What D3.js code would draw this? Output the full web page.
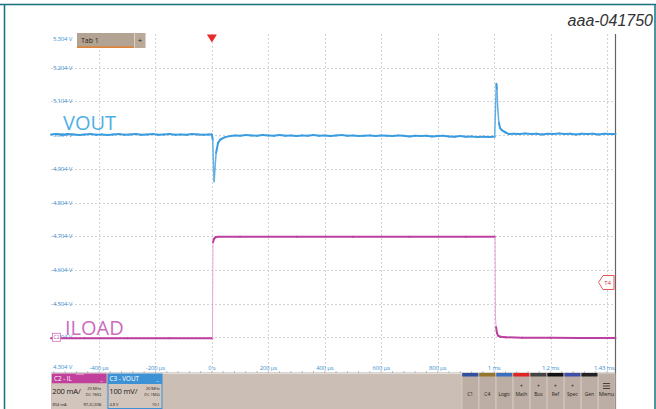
<!DOCTYPE html>
<html><head><meta charset="utf-8">
<script src="https://cdn.jsdelivr.net/npm/d3@7"></script>
<style>
body{margin:0;background:#fff;}
svg{display:block;font-family:"Open Sans",sans-serif;}
</style>
</head><body>
<svg id="c" width="656" height="409"></svg>
<script>
// ---- data ----
const voltTicks = [5.304, 5.204, 5.104, 5.004, 4.904, 4.804, 4.704, 4.604, 4.504, 4.404, 4.304];
const gridTimes = [-0.4, -0.2, 0, 0.2, 0.4, 0.6, 0.8, 1.0, 1.2, 1.4];
const timeTickVals = [-0.4, -0.2, 0, 0.2, 0.4, 0.6, 0.8, 1.0, 1.2, 1.43];
const timeTickLabels = ["-400 µs", "-200 µs", "0 s", "200 µs", "400 µs", "600 µs", "800 µs", "1 ms", "1.2 ms", "1.43 ms"];

// VOUT (time in ms, volts)
const voutT = [-0.57,-0.55,-0.53,-0.51,-0.49,-0.47,-0.45,-0.43,-0.41,-0.39,-0.37,-0.35,-0.33,-0.31,-0.29,-0.27,-0.25,-0.23,-0.21,-0.19,-0.17,-0.15,-0.13,-0.11,-0.09,-0.07,-0.05,-0.03,-0.01,0.0,
  0.003,0.006,0.008,0.011,0.015,0.022,0.030,0.047,0.065,0.083,0.10,0.12,0.14,0.16,0.18,0.20,0.22,0.24,0.26,0.28,0.30,0.32,0.34,0.36,0.38,0.40,0.42,0.44,0.46,0.48,0.50,0.52,0.54,0.56,0.58,0.60,0.62,0.64,0.66,0.68,0.70,0.72,0.74,0.76,0.78,0.80,0.82,0.84,0.86,0.88,0.90,0.92,0.94,0.96,0.98,1.002,
  1.005,1.008,1.010,1.013,1.017,1.021,1.027,1.040,1.053,1.07,1.09,1.11,1.13,1.15,1.17,1.19,1.21,1.23,1.25,1.27,1.29,1.31,1.33,1.35,1.37,1.39,1.41,1.43];
const voutV = [5.006,5.007,5.005,5.007,5.006,5.004,5.006,5.007,5.005,5.006,5.004,5.006,5.007,5.005,5.006,5.007,5.005,5.006,5.007,5.005,5.006,5.007,5.005,5.006,5.005,5.007,5.006,5.005,5.006,5.006,
  4.990,4.905,4.866,4.905,4.952,4.981,4.991,4.998,5.001,5.003,5.002,5.004,5.003,5.002,5.004,5.003,5.002,5.004,5.002,5.003,5.001,5.003,5.002,5.004,5.002,5.003,5.001,5.003,5.004,5.002,5.003,5.001,5.002,5.003,5.001,5.003,5.002,5.001,5.003,5.002,5.000,5.002,5.001,5.002,5.000,5.001,5.002,5.000,4.999,5.001,4.999,5.000,4.998,4.999,4.998,4.999,
  5.090,5.156,5.140,5.080,5.040,5.025,5.019,5.012,5.007,5.008,5.007,5.009,5.007,5.008,5.006,5.008,5.007,5.009,5.007,5.008,5.006,5.008,5.007,5.008,5.006,5.008,5.007,5.007];

// ILOAD (time in ms, mA)
const iloadT  = [-0.57,-0.45,-0.30,-0.15,0.0,0.002,0.004,0.008,0.013,0.020,0.10,0.30,0.50,0.70,0.90,1.0036,1.0046,1.007,1.010,1.015,1.022,1.04,1.10,1.20,1.30,1.43];
const iloadMA = [-5,-5,-6,-5,-5,-5,565,585,594,596,596,597,596,597,596,596,125,60,25,8,3,0,-2,-3,-4,-4];

const buttonNames  = ["C1","C4","Logic","Math","Bus","Ref","Spec","Gen"];
const buttonColors = ["#2f4fa0","#94762e","#3a6fc0","#e02424","#444444","#111111","#3f4fa8","#222222"];
const buttonPlus   = [false,false,false,true,true,true,true,false];

// ---- layout ----
const svg = d3.select("#c");
const L = 51, R = 615.5, T = 34, B = 371;
const x = d3.scaleLinear().domain([-0.57, 1.43]).range([L, R]);
const yV = d3.scaleLinear().domain([4.304, 5.304]).range([B, T]);
const yI = d3.scaleLinear().domain([-200, 1800]).range([B, T]); // 200 mA/div

// frame
svg.append("line").attr("x1",0).attr("x2",656).attr("y1",4.5).attr("y2",4.5).attr("stroke","#16727e").attr("stroke-width",1.5);
svg.append("line").attr("x1",4.5).attr("x2",4.5).attr("y1",4).attr("y2",409).attr("stroke","#16727e").attr("stroke-width",1.5);
svg.append("line").attr("x1",655).attr("x2",655).attr("y1",4).attr("y2",409).attr("stroke","#16727e").attr("stroke-width",1.5);

// grid
const g = svg.append("g");
g.selectAll(".hg").data(voltTicks.slice(1, -1)).enter().append("line")
  .attr("x1",L).attr("x2",R-1).attr("y1",d=>Math.round(yV(d))+0.5).attr("y2",d=>Math.round(yV(d))+0.5)
  .attr("stroke","#c8c8c8").attr("stroke-width",0.8).attr("stroke-dasharray","2,2");
g.selectAll(".vg").data(gridTimes).enter().append("line")
  .attr("x1",d=>Math.round(x(d))+0.5).attr("x2",d=>Math.round(x(d))+0.5).attr("y1",T).attr("y2",B)
  .attr("stroke","#c8c8c8").attr("stroke-width",0.8).attr("stroke-dasharray","2,2");

// right edge of plot
svg.append("line").attr("x1",R).attr("x2",R).attr("y1",T).attr("y2",409).attr("stroke","#6a625c").attr("stroke-width",1.2);

// y labels
svg.selectAll(".yl").data(voltTicks).enter().append("text")
  .attr("x",L+2).attr("y",(d,i)=> i===0 ? yV(d)+7 : (i===voltTicks.length-1 ? yV(d)-2 : yV(d)+2))
  .attr("font-size",6).attr("letter-spacing",-0.2).attr("fill","#3a8fd0")
  .text(d=>d.toFixed(3)+" V");

// time axis labels
svg.selectAll(".tl").data(timeTickVals).enter().append("text")
  .attr("x",d=>d===1.43 ? R-1 : x(d)).attr("y",370)
  .attr("text-anchor",d=>d===1.43 ? "end" : "middle")
  .attr("font-size",6).attr("letter-spacing",-0.2).attr("fill","#3a8fd0")
  .text((d,i)=>timeTickLabels[i]);

// ruler ticks
const minor = d3.range(-0.56, 1.43, 0.04);
svg.append("line").attr("x1",L).attr("x2",R).attr("y1",372.5).attr("y2",372.5).attr("stroke","#bbb").attr("stroke-width",0.6);
svg.selectAll(".mt").data(minor).enter().append("line")
  .attr("x1",d=>x(d)).attr("x2",d=>x(d)).attr("y1",371).attr("y2",373)
  .attr("stroke","#999").attr("stroke-width",0.6);

// traces drawn segment by segment; steep edges lighter & thinner
function trace(ts, vs, ys, col, light, steepW) {
  const pts = ts.map((t,i)=>[x(t), ys(vs[i])]);
  const gg = svg.append("g");
  for (let i=1;i<pts.length;i++){
    const dx = Math.abs(pts[i][0]-pts[i-1][0]), dy = Math.abs(pts[i][1]-pts[i-1][1]);
    const steep = dy > 10 && dy > 8*dx;
    gg.append("line").attr("x1",pts[i-1][0]).attr("y1",pts[i-1][1]).attr("x2",pts[i][0]).attr("y2",pts[i][1])
      .attr("stroke", steep ? light : col).attr("stroke-width", steep ? steepW : 2).attr("stroke-linecap","round");
  }
}
trace(iloadT, iloadMA, yI, "#bd3fa0", "#e9a3dc", 1);
trace(voutT, voutV, yV, "#3a9ce0", "#62afe6", 1.5);

// channel labels
svg.append("text").attr("x",63).attr("y",130).attr("font-size",20).attr("fill","#4fb0e4").text("VOUT");
svg.append("text").attr("x",65).attr("y",335).attr("font-size",20).attr("fill","#cc6cc0").text("ILOAD");

// C2 ground marker
const c2y = yI(0);
svg.append("rect").attr("x",52.5).attr("y",c2y-4).attr("width",8).attr("height",8).attr("fill","#fff").attr("stroke","#d070c0").attr("stroke-width",0.8);
svg.append("text").attr("x",56.5).attr("y",c2y+2).attr("text-anchor","middle").attr("font-size",5).attr("fill","#c050a8").text("C2");

// trigger level marker T4
const tm = svg.append("g");
tm.append("path").attr("d","M598.5,282.5 L603,275.5 L614,275.5 L614,289.5 L603,289.5 Z").attr("fill","#fff").attr("stroke","#e04848").attr("stroke-width",0.9);
tm.append("text").attr("x",607.5).attr("y",285).attr("text-anchor","middle").attr("font-size",6).attr("fill","#d83838").text("T4");

// trigger position marker
svg.append("path").attr("d",`M${x(0)-5},34.5 L${x(0)+5},34.5 L${x(0)},42.5 Z`).attr("fill","#e82a2a");

// Tab 1
svg.append("rect").attr("x",77).attr("y",33).attr("width",57).attr("height",15).attr("fill","#b3a393");
svg.append("rect").attr("x",134.5).attr("y",33).attr("width",11).attr("height",15).attr("fill","#b8a999");
svg.append("line").attr("x1",77).attr("x2",134).attr("y1",47.2).attr("y2",47.2).attr("stroke","#ea7a1e").attr("stroke-width",1.2);
svg.append("text").attr("x",81).attr("y",43).attr("font-size",7).attr("fill","#2a2420").text("Tab 1");
svg.append("text").attr("x",140).attr("y",43).attr("text-anchor","middle").attr("font-size",8).attr("fill","#2a2420").text("+");

// figure id
svg.append("text").attr("x",653).attr("y",26).attr("text-anchor","end").attr("font-family","'Liberation Sans', Arial, sans-serif")
  .attr("font-style","italic").attr("font-size",16).attr("fill","#333").text("aaa-041750");

// bottom panel
const P = 373.5;
svg.append("rect").attr("x",L).attr("y",P).attr("width",R-L).attr("height",409-P).attr("fill","#cbbfb5");

const small = {size:4.1, ls:-0.1, col:"#2a2420"};
function st(xx, yy, txt, anchor) {
  svg.append("text").attr("x",xx).attr("y",yy).attr("text-anchor",anchor||"start")
    .attr("font-size",small.size).attr("letter-spacing",small.ls).attr("fill",small.col).text(txt);
}

// C2 badge
svg.append("rect").attr("x",52).attr("y",P).attr("width",54.5).attr("height",10).attr("fill","#c0409c");
svg.append("rect").attr("x",52).attr("y",P+10).attr("width",54.5).attr("height",409-P-10).attr("fill","#d2c6bc");
svg.append("line").attr("x1",76).attr("x2",84).attr("y1",P+0.8).attr("y2",P+0.8).attr("stroke","#e7b7dc").attr("stroke-width",0.8);
svg.append("text").attr("x",54).attr("y",P+7.5).attr("font-size",6.3).attr("fill","#fff").text("C2 - IL");
svg.append("text").attr("x",103).attr("y",P+7).attr("text-anchor","end").attr("font-size",6).attr("fill","#fff").text("_");
svg.append("text").attr("x",52.3).attr("y",394).attr("font-size",7.6).attr("letter-spacing",-0.2).attr("fill","#1e1a18").text("200 mA/");
st(101, 390, "20 MHz", "end");
st(101, 396, "DC 1MΩ", "end");
st(52.5, 405.5, "804 mA");
st(101, 405.5, "RT-ZC20B", "end");

// C3 badge
svg.append("rect").attr("x",107.5).attr("y",P).attr("width",55).attr("height",10).attr("fill","#3d92d6");
svg.append("rect").attr("x",108).attr("y",P+10).attr("width",54).attr("height",409-P-10.5).attr("fill","#d2c6bc").attr("stroke","#3d92d6").attr("stroke-width",1);
svg.append("text").attr("x",109.5).attr("y",P+7.5).attr("font-size",6.3).attr("fill","#fff").text("C3 - VOUT");
svg.append("text").attr("x",159).attr("y",P+7).attr("text-anchor","end").attr("font-size",6).attr("fill","#fff").text("_");
svg.append("text").attr("x",109.3).attr("y",394).attr("font-size",7.6).attr("letter-spacing",-0.2).attr("fill","#1e1a18").text("100 mV/");
st(159.5, 390, "20 MHz", "end");
st(159.5, 396, "DC 1MΩ", "end");
st(109.5, 405.5, "4.8 V");
st(159.5, 405.5, "10:1", "end");

// buttons
const bx = d3.scaleBand().domain(d3.range(9)).range([461.7, R-0.5]).padding(0);
const bw = bx.bandwidth();
const btn = svg.append("g");
btn.selectAll(".bb").data(d3.range(9)).enter().append("rect")
  .attr("x",d=>bx(d)+0.5).attr("y",P).attr("width",bw-1).attr("height",409-P).attr("fill","#bcaea4");
btn.selectAll(".bs").data(d3.range(9)).enter().append("line")
  .attr("x1",d=>bx(d)+0.25).attr("x2",d=>bx(d)+0.25).attr("y1",P).attr("y2",409).attr("stroke","#ddd3cb").attr("stroke-width",0.6);
btn.selectAll(".bc").data(buttonColors).enter().append("rect")
  .attr("x",(d,i)=>bx(i)+0.5).attr("y",P-0.5).attr("width",bw-1).attr("height",3.5).attr("fill",d=>d);
btn.selectAll(".bt").data(buttonNames).enter().append("text")
  .attr("x",(d,i)=>bx(i)+bw/2).attr("y",395.5).attr("text-anchor","middle").attr("font-size",5).attr("letter-spacing",-0.1).attr("fill","#2a2420").text(d=>d);
buttonPlus.forEach((p,i)=>{ if(p) btn.append("text").attr("x",bx(i)+bw/2).attr("y",388).attr("text-anchor","middle").attr("font-size",5).attr("fill","#2a2420").text("+"); });
// Menu button
const mx = bx(8)+bw/2;
[383.5,386,388.5].forEach(yy=>btn.append("line").attr("x1",mx-3.5).attr("x2",mx+3.5).attr("y1",yy).attr("y2",yy).attr("stroke","#2a2420").attr("stroke-width",0.8));
btn.append("text").attr("x",mx).attr("y",396).attr("text-anchor","middle").attr("font-size",5.8).attr("fill","#2a2420").text("Menu");
</script>
</body></html>
